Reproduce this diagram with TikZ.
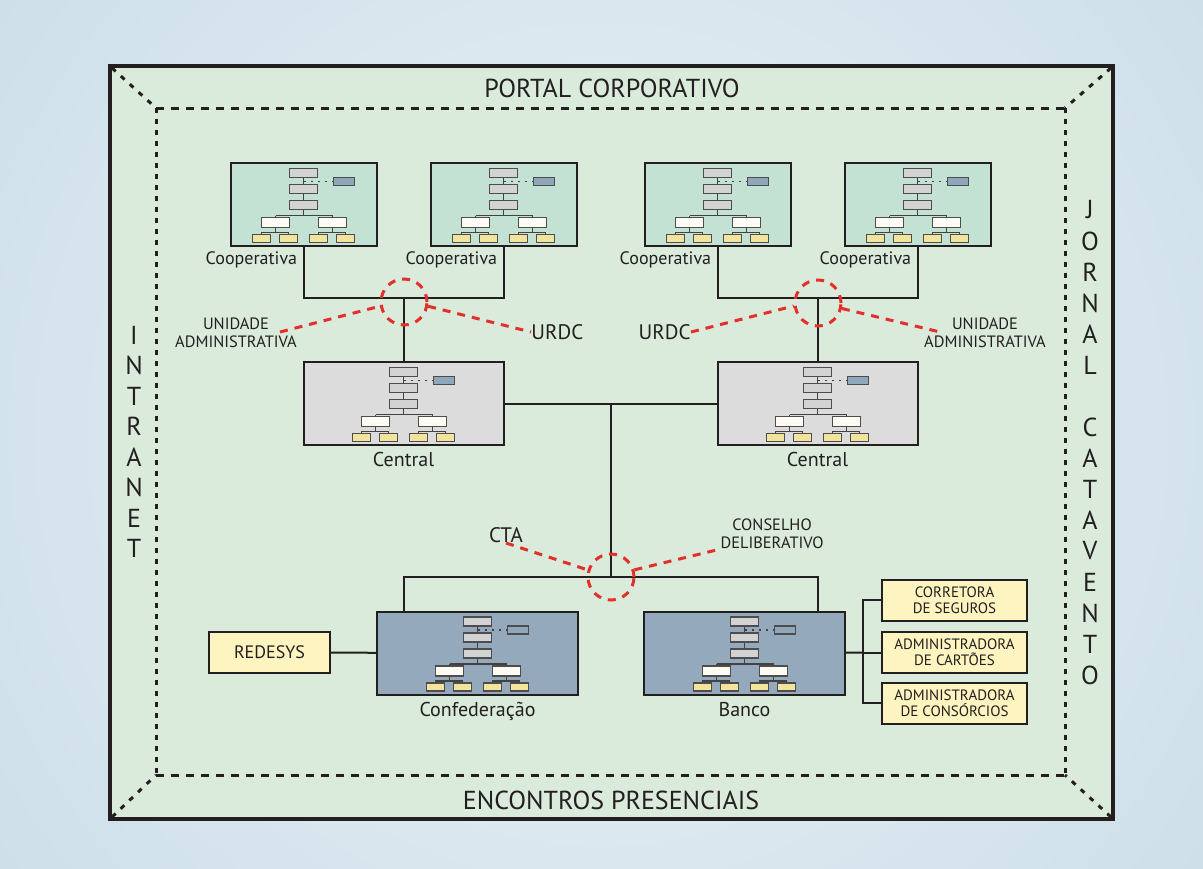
\documentclass[tikz,border=0pt]{standalone}
\usepackage{fontspec}
\setmainfont{PT Sans}
\usetikzlibrary{positioning}
\definecolor{bgin}{HTML}{EAF2F6}
\definecolor{bgout}{HTML}{B3CDDE}
\definecolor{panel}{HTML}{DAEBDB}
\definecolor{coopfill}{HTML}{C4E2D4}
\definecolor{centfill}{HTML}{DCDCDC}
\definecolor{headfill}{HTML}{94AABC}
\definecolor{icongrey}{HTML}{D3D3D3}
\definecolor{iconblue}{HTML}{8FA7BB}
\definecolor{iconwhite}{HTML}{FDFBF3}
\definecolor{iconyellow}{HTML}{F3E49D}
\definecolor{notefill}{HTML}{FDF4BF}
\definecolor{netred}{HTML}{E2302B}
\definecolor{ink}{HTML}{231F20}
\tikzset{
unit/.style={draw=ink, line width=1pt, inner sep=0pt, minimum height=41.5pt}, % every big box
coopbox/.style={unit, fill=coopfill, minimum width=73pt}, % cooperativas
centralbox/.style={unit, fill=centfill, minimum width=100pt}, % centrais
headbox/.style={unit, fill=headfill, minimum width=100.5pt}, % confederacao and banco
notebox/.style={draw=ink, line width=1pt, fill=notefill, inner sep=0pt, align=center, minimum width=72.5pt, minimum height=20.5pt, font=\fontsize{7.5}{8}\selectfont, text=ink}, % yellow boxes
link/.style={draw=ink, line width=1pt}, % black connections
ring/.style={circle, draw=netred, line width=1.5pt, dash pattern=on 4pt off 3.5pt, minimum size=23pt, inner sep=0pt}, % red dashed loops
redline/.style={draw=netred, line width=1.5pt, dash pattern=on 4pt off 3.5pt}, % red dashed lines
bigtext/.style={font=\fontsize{13}{15}\selectfont, text=ink, inner sep=0pt}, % frame texts
titletext/.style={font=\fontsize{10}{12}\selectfont, text=ink, inner sep=0pt}, % box names
cooptext/.style={font=\fontsize{9}{11}\selectfont, text=ink, inner sep=0pt}, % cooperativa names
midtext/.style={font=\fontsize{10.5}{12}\selectfont, text=ink, inner sep=0pt}, % URDC and CTA
smalltext/.style={font=\fontsize{8.2}{8.8}\selectfont, text=ink, inner sep=0pt, align=center}, % two line labels
iconline/.style={draw=ink!85, line width=0.7pt}, % lines of the small chart
iconrect/.style={draw=ink!80, line width=0.8pt}, % boxes of the small chart
orgchart/.pic={
  \draw[iconline] (0,-31) -- (0,11) (-28,11) -- (29,11);
  \draw[iconline, dash pattern=on 1pt off 2.5pt] (0,-23) -- (30,-23);
  \foreach \m in {-28,29}
    \draw[iconline] (\m,11) -- (\m,13) (\m,23) -- (\m,28) (\m-14,30) -- (\m-14,28) -- (\m+13,28) -- (\m+13,30);
  \foreach \t in {-36,-20,-4}
    \filldraw[iconrect, fill=icongrey] (-14,\t) rectangle (14,\t+9);
  \filldraw[iconrect, fill=iconblue] (30,-27) rectangle (51,-19);
  \filldraw[iconrect, fill=iconwhite] (-42,13) rectangle (-14,23);
  \filldraw[iconrect, fill=iconwhite] (15,13) rectangle (43,23);
  \foreach \m in {-42,-15,15,42}
    \filldraw[iconrect, fill=iconyellow] (\m-9,30) rectangle (\m+9,38);
}
}

\begin{document}
\begin{tikzpicture}[x=0.5pt, y=-0.5pt]
  \useasboundingbox (0,0) rectangle (1203,868);
  % Frame
  \begin{scope}
    \clip (0,0) rectangle (1203,868);
    \shade[inner color=bgin, outer color=bgout] (601,434) circle (1450);
  \end{scope}
  \filldraw[fill=panel, draw=ink, line width=1.6pt] (110,66) rectangle (1113,819);
  \draw[ink, line width=1.5pt, dash pattern=on 4pt off 3.5pt] (156,108) -- (1065,108) (156,775) -- (1065,775);
  \draw[ink, line width=1.5pt, dash pattern=on 2.5pt off 3pt] (156,108) -- (156,775) (1065,108) -- (1065,775);
  \draw[ink, line width=1.5pt, dash pattern=on 2.5pt off 3.5pt] (112,68) -- (156,108) (1111,68) -- (1065,108) (112,817) -- (156,775) (1111,817) -- (1065,775);
  \node[bigtext] (portal) at (612,88) {PORTAL CORPORATIVO};
  \node[bigtext] (encontros) at (611,800) {ENCONTROS PRESENCIAIS};
  \foreach \l [count=\i from 0] in {I,N,T,R,A,N,E,T}
    \node[bigtext] (in\i) at (134,335+30.5*\i) {\l};
  \foreach \l [count=\i from 0] in {J,O,R,N,A,L}
    \node[bigtext] (jo\i) at (1090,210+31*\i) {\l};
  \foreach \l [count=\i from 0] in {C,A,T,A,V,E,N,T,O}
    \node[bigtext] (ca\i) at (1090,427+31*\i) {\l};

  % Boxes
  \node[coopbox] (c1) at (303.5,204.5) {};
  \node[coopbox] (c2) at (503.5,204.5) {};
  \node[coopbox] (c3) at (717.5,204.5) {};
  \node[coopbox] (c4) at (917.5,204.5) {};
  \node[centralbox] (cl) at (403.5,403.5) {};
  \node[centralbox] (cr) at (817.5,403.5) {};
  \node[headbox] (cf) at (477.5,653) {};
  \node[headbox] (bc) at (744.5,653) {};
  \foreach \b in {c1,c2,c3,c4,cl,cr,cf,bc}
    \pic at (\b) {orgchart};
  \node[notebox, minimum width=60.5pt, font=\fontsize{9}{11}\selectfont] (rd) at (269.5,652.5) {REDESYS};
  \node[notebox] (s1) at (954.5,600) {CORRETORA\\DE SEGUROS};
  \node[notebox] (s2) at (954.5,652.5) {ADMINISTRADORA\\DE CARTÕES};
  \node[notebox] (s3) at (954.5,703) {ADMINISTRADORA\\DE CONSÓRCIOS};

  % Names
  \node[cooptext, below left=2pt and 3pt of c1.south] (lc1) {Cooperativa};
  \node[cooptext, below left=2pt and 3pt of c2.south] (lc2) {Cooperativa};
  \node[cooptext, below left=2pt and 3pt of c3.south] (lc3) {Cooperativa};
  \node[cooptext, below left=2pt and 3pt of c4.south] (lc4) {Cooperativa};
  \node[titletext, below=3pt of cl] (lcl) {Central};
  \node[titletext, below=3pt of cr] (lcr) {Central};
  \node[titletext, below=3pt of cf] (lcf) {Confederação};
  \node[titletext, below=3pt of bc] (lbc) {Banco};

  % Connections
  \coordinate (jl) at (403.5,298);
  \coordinate (jr) at (817.5,298);
  \coordinate (jt) at (611,403.5);
  \coordinate (jb) at (611,577);
  \coordinate (js) at (863,652.5);
  \draw[link] (c1.south) |- (jl) -| (c2.south);
  \draw[link] (jl) -- (cl.north);
  \draw[link] (c3.south) |- (jr) -| (c4.south);
  \draw[link] (jr) -- (cr.north);
  \draw[link] (cl.east) -- (cr.west);
  \draw[link] (jt) -- (jb);
  \draw[link] (cl |- cf.north) |- (jb) -| (cr |- bc.north);
  \draw[link] (rd) -- (cf);
  \draw[link] (bc) -- (js);
  \draw[link] (s1.west) -| (js) |- (s3.west);
  \draw[link] (js) -- (s2.west);

  % Red links
  \node[ring] (ul) at (404,302) {};
  \node[ring] (ur) at (818,303) {};
  \node[ring] (ub) at (611,577) {};
  \node[smalltext] (ua1) at (236,333) {UNIDADE\\ADMINISTRATIVA};
  \node[smalltext] (ua2) at (985,333) {UNIDADE\\ADMINISTRATIVA};
  \node[midtext, anchor=west] (ur1) at (531,332) {URDC};
  \node[midtext, anchor=east] (ur2) at (691,332) {URDC};
  \node[midtext] (cta) at (506,535) {CTA};
  \node[smalltext] (cd) at (772,534) {CONSELHO\\DELIBERATIVO};
  \coordinate (ua1e) at (280,332);
  \coordinate (ua2e) at (940,332);
  \draw[redline] (ua1e) -- (ul.190);
  \draw[redline] (ul.350) -- (ur1.west);
  \draw[redline] (ur2.east) -- (ur.187);
  \draw[redline] (ur.347) -- (ua2e);
  \draw[redline] (cta.south) -- (ub.163);
  \draw[redline] (ub.17) -- (cd.south west);
\end{tikzpicture}
\end{document}
